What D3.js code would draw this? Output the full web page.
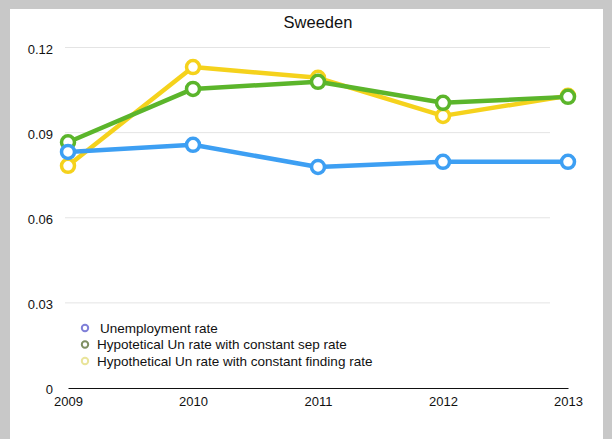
<!DOCTYPE html>
<html>
<head>
<meta charset="utf-8">
<script src="https://cdn.jsdelivr.net/npm/d3@7"></script>
<style>
  html, body { margin: 0; padding: 0; background: #c8c8c8; }
  svg { display: block; font-family: "Liberation Sans", Arial, Helvetica, sans-serif; }
</style>
</head>
<body>
<svg id="chart" width="612" height="439"></svg>
<script>
// Sweden: actual vs hypothetical unemployment rates
const years = ["2009", "2010", "2011", "2012", "2013"];
const unemploymentRate = [0.0832, 0.0857, 0.0779, 0.0797, 0.0797];
const constSepRate     = [0.0866, 0.1054, 0.1079, 0.1005, 0.1026];
const constFindingRate = [0.0783, 0.1131, 0.1093, 0.0959, 0.1030];
const yTicks = [0, 0.03, 0.06, 0.09, 0.12];
const yTickLabels = ["0", "0.03", "0.06", "0.09", "0.12"];

const seriesNames = [
  "Unemployment rate",
  "Hypotetical Un rate with constant sep rate",
  "Hypothetical Un rate with constant finding rate"
];
const seriesValues = [unemploymentRate, constSepRate, constFindingRate];
const lineColors = ["#3d9ff3", "#5bb52b", "#f5d21c"];
const legendColors = ["#8080d8", "#7f8f62", "#e9e49a"];

const svg = d3.select("#chart");

// white panel inside the gray frame
svg.append("rect").attr("x", 10).attr("y", 9).attr("width", 593).attr("height", 430).attr("fill", "#ffffff");

const x = d3.scalePoint().domain(years).range([68, 568]);
const y = d3.scaleLinear().domain([0, 0.12]).range([388, 47.5]);

// title, centred over the plot
svg.append("text").attr("x", 318).attr("y", 28).attr("text-anchor", "middle")
  .attr("font-size", 16.5).attr("fill", "#111").text("Sweeden");

// horizontal gridlines
svg.append("g").selectAll("line").data(yTicks.filter(d => d > 0)).join("line")
  .attr("x1", 65).attr("x2", 550)
  .attr("y1", d => y(d)).attr("y2", d => y(d))
  .attr("stroke", "#e4e4e4").attr("stroke-width", 1);

// y axis labels
const yAxis = d3.axisLeft(y).tickValues(yTicks)
  .tickFormat((d, i) => yTickLabels[i]).tickSize(0).tickPadding(0);
const gy = svg.append("g").attr("transform", "translate(53,1.5)").call(yAxis);
gy.select(".domain").remove();
gy.selectAll("text").attr("font-size", 13).attr("fill", "#111")
  .attr("font-family", "Liberation Sans, Arial, sans-serif");

// x axis: baseline and year labels
const xAxis = d3.axisBottom(x).tickSize(0).tickPadding(9);
const gx = svg.append("g").attr("transform", "translate(0,388)").call(xAxis);
gx.select(".domain").attr("stroke", "#111").attr("stroke-width", 1.2);
gx.selectAll("text").attr("font-size", 13).attr("fill", "#111")
  .attr("font-family", "Liberation Sans, Arial, sans-serif");

// series lines and markers (drawn back to front: yellow, green, blue)
const line = d3.line().x((d, i) => x(years[i])).y(d => y(d));
[2, 1, 0].forEach(s => {
  const g = svg.append("g");
  g.append("path").datum(seriesValues[s]).attr("d", line)
    .attr("fill", "none").attr("stroke", lineColors[s])
    .attr("stroke-width", 4.5).attr("stroke-linejoin", "round");
  g.selectAll("circle").data(seriesValues[s]).join("circle")
    .attr("cx", (d, i) => x(years[i])).attr("cy", d => y(d)).attr("r", 6.5)
    .attr("fill", "#ffffff").attr("stroke", lineColors[s]).attr("stroke-width", 3.5);
});

// legend
const legend = svg.append("g").attr("transform", "translate(85,328)");
seriesNames.forEach((name, i) => {
  const row = legend.append("g").attr("transform", `translate(0,${i * 16.5})`);
  row.append("circle").attr("cx", 0).attr("cy", 0).attr("r", 3.2)
    .attr("fill", "#fff").attr("stroke", legendColors[i]).attr("stroke-width", 2);
  row.append("text").attr("x", i === 0 ? 15 : 12).attr("y", 4.5).attr("font-size", 13.5)
    .attr("fill", "#111").text(name);
});
</script>
</body>
</html>
